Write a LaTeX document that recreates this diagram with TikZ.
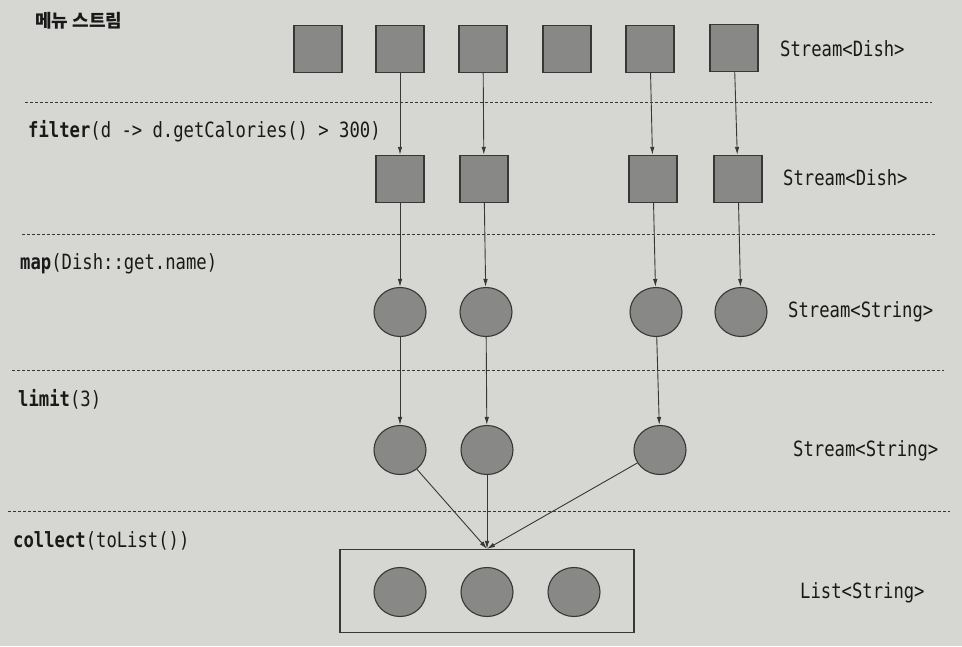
\documentclass[tikz,border=0pt]{standalone}
\usepackage{fontspec}
\newfontfamily\codefont[FakeStretch=0.82]{DejaVu Sans Mono}
\newfontfamily\kfont{Noto Sans CJK KR}
\usetikzlibrary{arrows.meta,shapes.geometric}
\definecolor{paper}{RGB}{214,214,211}
\definecolor{shapefill}{RGB}{136,136,134}
\definecolor{ink}{RGB}{55,55,55}
\tikzset{
  sq/.style={draw=ink,fill=shapefill,line width=1.4pt,minimum width=48pt,minimum height=47pt,inner sep=0pt},
  el/.style={ellipse,draw=ink,fill=shapefill,line width=1.1pt,minimum width=52pt,minimum height=49pt,inner sep=0pt},
  flow/.style={draw=ink,line width=0.9pt,-{Latex[length=8pt,width=4.5pt]}},
  sep/.style={draw=ink,line width=1pt,dash pattern=on 3pt off 2pt},
  lbl/.style={anchor=west,inner sep=0pt,text=black!90,font=\codefont\fontsize{21}{24}\selectfont},
  klbl/.style={anchor=west,inner sep=0pt,text=black!90,font=\kfont\bfseries\fontsize{18}{21}\selectfont},
  listbox/.style={draw=ink,line width=1.2pt,minimum width=294pt,minimum height=83pt,inner sep=0pt}
}
\begin{document}
\begin{tikzpicture}[x=1pt,y=-1pt]
\fill[paper] (0,0) rectangle (962,646);
\useasboundingbox (0,0) rectangle (962,646);
% separators
\coordinate (s1a) at (25,102); \coordinate (s1b) at (932,102);
\coordinate (s2a) at (22,234); \coordinate (s2b) at (936,234);
\coordinate (s3a) at (12,370); \coordinate (s3b) at (944,370);
\coordinate (s4a) at (8,511); \coordinate (s4b) at (950,511);
\draw[sep] (s1a) -- (s1b);
\draw[sep] (s2a) -- (s2b);
\draw[sep] (s3a) -- (s3b);
\draw[sep] (s4a) -- (s4b);
% left labels
\node[klbl] (t0) at (35,21) {메뉴 스트림};
\node[lbl] (t1) at (28,131) {\textbf{filter}(d -> d.getCalories() > 300)};
\node[lbl] (t2) at (20,264) {\textbf{map}(Dish::get.name)};
\node[lbl] (t3) at (18,399) {\textbf{limit}(3)};
\node[lbl] (t4) at (13,541) {\textbf{collect}(toList())};
% right labels
\node[lbl] (r1) at (780,49) {Stream<Dish>};
\node[lbl] (r2) at (783,178) {Stream<Dish>};
\node[lbl] (r3) at (788,312) {Stream<String>};
\node[lbl] (r4) at (793,451) {Stream<String>};
\node[lbl] (r5) at (800,593) {List<String>};
% row 1
\node[sq] (a1) at (318,49) {};
\node[sq] (a2) at (400,49) {};
\node[sq] (a3) at (483,49) {};
\node[sq] (a4) at (567,49) {};
\node[sq] (a5) at (650,49) {};
\node[sq] (a6) at (734,48) {};
% row 2
\node[sq] (b1) at (400,179) {};
\node[sq] (b2) at (484,179) {};
\node[sq] (b3) at (653,179) {};
\node[sq] (b4) at (738,179) {};
% row 3
\node[el] (c1) at (400,312) {};
\node[el] (c2) at (486,312) {};
\node[el] (c3) at (656,312) {};
\node[el] (c4) at (741,312) {};
% row 4
\node[el] (d1) at (400,450) {};
\node[el] (d2) at (487,450) {};
\node[el] (d3) at (660,450) {};
% list
\node[listbox] (box) at (487,591) {};
\node[el] (e1) at (400,592) {};
\node[el] (e2) at (487,592) {};
\node[el] (e3) at (574,592) {};
% arrows
\draw[flow] (a2) -- (b1);
\draw[flow] (a3) -- (b2);
\draw[flow] (a5) -- (b3);
\draw[flow] (a6) -- (b4);
\draw[flow] (b1) -- (c1);
\draw[flow] (b2) -- (c2);
\draw[flow] (b3) -- (c3);
\draw[flow] (b4) -- (c4);
\draw[flow] (c1) -- (d1);
\draw[flow] (c2) -- (d2);
\draw[flow] (c3) -- (d3);
\draw[flow] (d1) -- (box.north);
\draw[flow] (d2) -- (box.north);
\draw[flow] (d3) -- (box.north);
\end{tikzpicture}
\end{document}
